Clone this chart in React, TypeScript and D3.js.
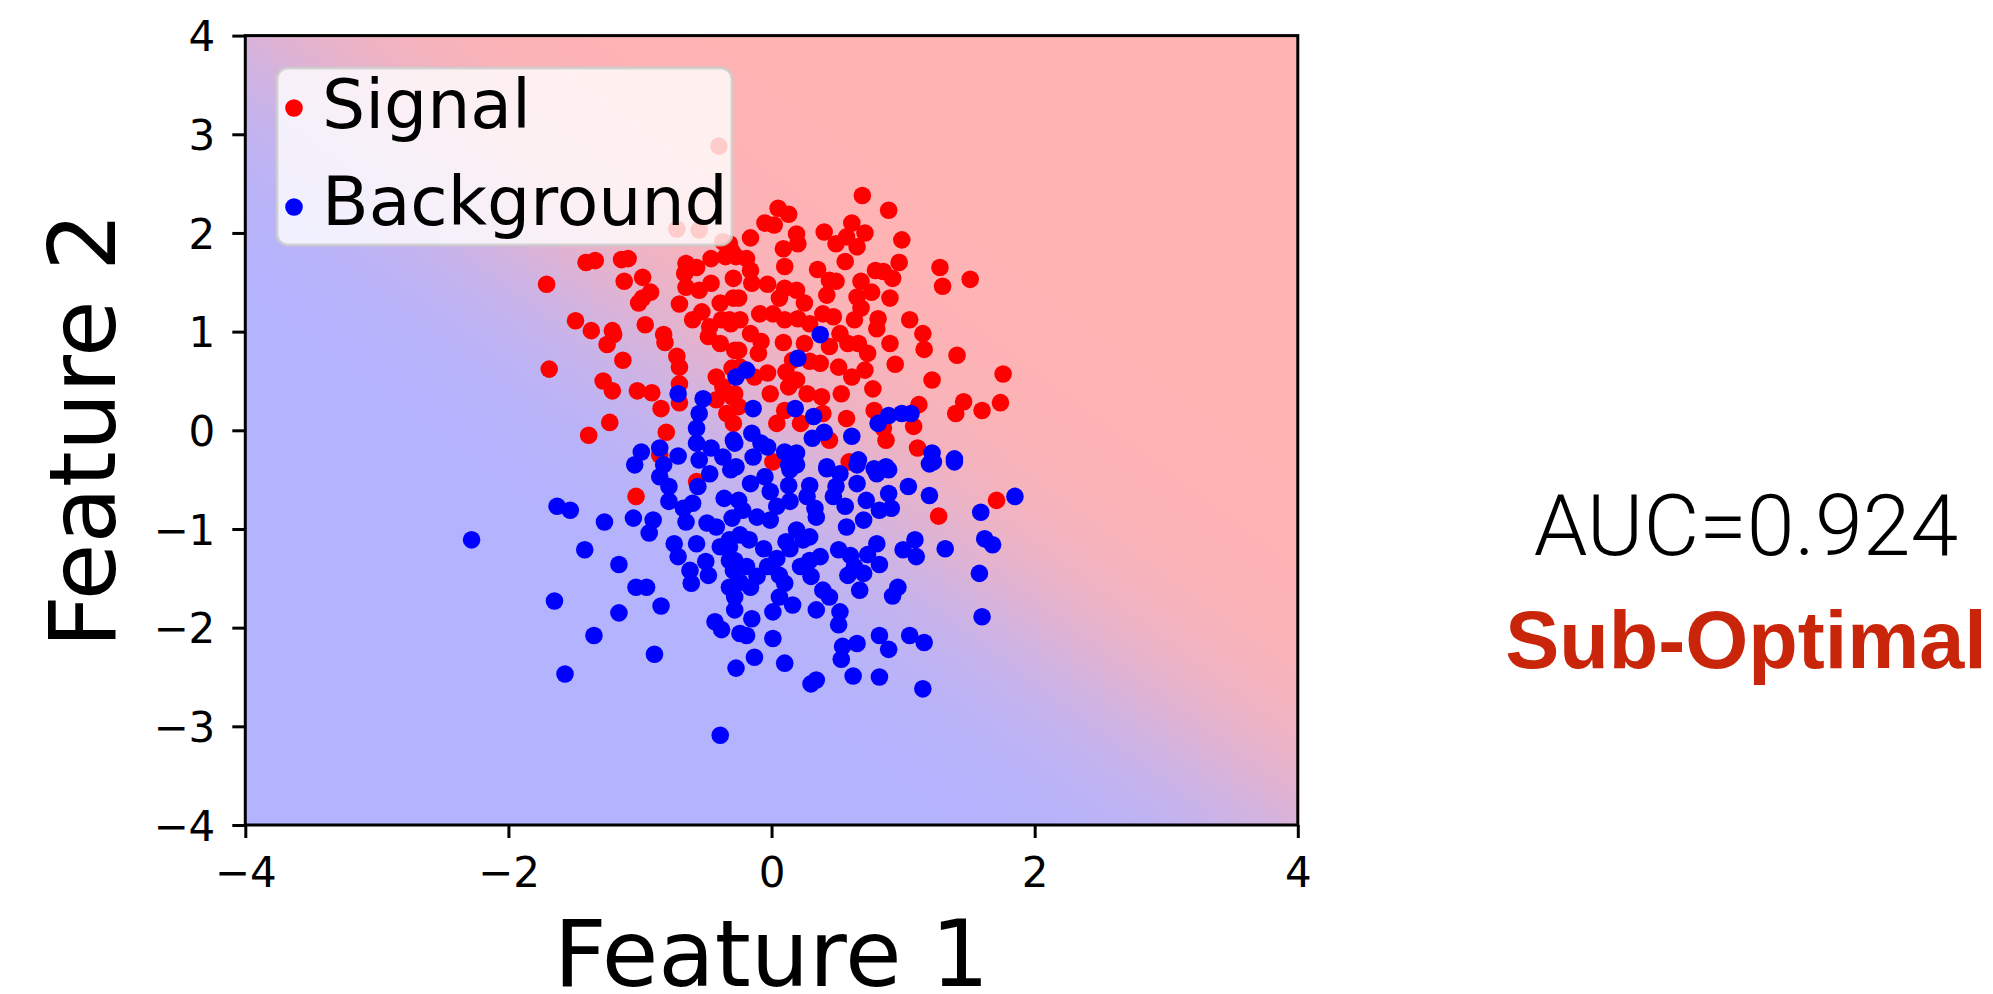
import React, { useEffect, useRef } from 'react';
import * as d3 from 'd3';

// signal (red) points
const signalPoints = [
  [-1.41, 1.70], [-1.34, 1.72], [-1.14, 1.73], [-1.09, 1.74], [-1.71, 1.48], [-1.12, 1.51], [-0.98, 1.55], [-0.92, 1.40],
  [-0.98, 1.34], [-1.01, 1.29], [-1.49, 1.11], [-1.37, 1.01], [-1.21, 1.01], [-1.20, 0.97], [-1.25, 0.87], [-0.96, 1.07],
  [-0.82, 0.97], [-0.81, 0.89], [-1.13, 0.71], [-0.72, 0.75], [-0.70, 0.64], [-1.69, 0.62], [-1.28, 0.50], [-1.21, 0.40],
  [-1.02, 0.40], [-0.91, 0.38], [-0.84, 0.22], [-0.70, 0.47], [-0.70, 0.28], [-1.23, 0.08], [-1.39, -0.05], [-0.80, -0.02],
  [-0.85, -0.25],
  [-0.65, 1.69], [-0.57, 1.65], [-0.46, 1.74], [-0.35, 1.76], [-0.30, 1.81], [-0.66, 1.59], [-0.65, 1.45], [-0.55, 1.42],
  [-0.46, 1.49], [-0.29, 1.54], [-0.70, 1.28], [-0.60, 1.12], [-0.53, 1.20], [-0.39, 1.29], [-0.29, 1.34], [-0.47, 1.05],
  [-0.38, 1.12], [-0.31, 1.08], [-0.48, 0.95], [-0.39, 0.88], [-0.28, 0.81], [-0.30, 0.63], [-0.42, 0.54], [-0.37, 0.44],
  [-0.30, 0.34], [-0.42, 0.31], [-0.34, 0.17], [-0.29, 0.07],
  [-0.40, 2.88], [-0.72, 2.04], [-0.55, 2.03], [-0.37, 1.91],
  [0.69, 2.38], [0.89, 2.23], [0.05, 2.25], [0.13, 2.19], [-0.05, 2.10], [0.02, 2.08], [-0.16, 1.95], [0.19, 1.99],
  [0.20, 1.89], [0.09, 1.84], [0.40, 2.01], [0.49, 1.89], [0.61, 2.10], [0.71, 2.00], [0.57, 1.96], [0.65, 1.86],
  [0.56, 1.71], [0.99, 1.93], [0.97, 1.70], [0.79, 1.62], [0.85, 1.61], [0.68, 1.51], [0.76, 1.40], [0.92, 1.54],
  [1.28, 1.65], [1.51, 1.53], [1.30, 1.46], [0.10, 1.66], [0.35, 1.63], [0.44, 1.52], [0.49, 1.51], [0.42, 1.37],
  [-0.27, 1.76], [-0.19, 1.74], [-0.16, 1.62], [-0.03, 1.48], [-0.15, 1.49], [0.10, 1.44], [0.19, 1.42], [0.25, 1.29],
  [0.06, 1.34], [-0.25, 1.34], [0.65, 1.35], [0.68, 1.24], [0.90, 1.34], [0.63, 1.12], [0.81, 1.13], [0.80, 1.03],
  [0.90, 0.88], [1.05, 1.12], [1.15, 0.98], [1.16, 0.82], [1.41, 0.76], [1.76, 0.57], [1.22, 0.51], [0.94, 0.67],
  [0.77, 0.42], [0.71, 0.61], [0.61, 0.54], [0.53, 0.37], [0.57, 0.12], [0.44, -0.10], [0.87, -0.10], [1.08, 0.04],
  [1.12, 0.26], [1.46, 0.29], [1.40, 0.17], [1.60, 0.20], [1.74, 0.28], [1.11, -0.18], [0.78, 0.20], [0.85, 0.02],
  [-0.32, 1.12], [-0.24, 1.12], [-0.09, 1.18], [0.01, 1.18], [0.10, 1.12], [0.20, 1.13], [0.29, 1.08], [0.39, 1.18],
  [0.47, 1.15], [0.52, 0.98], [0.58, 0.88], [0.73, 0.78], [0.66, 0.88], [0.44, 0.85], [0.25, 0.88], [0.09, 0.89],
  [-0.08, 0.90], [-0.16, 0.98], [-0.25, 0.81], [-0.10, 0.78], [-0.03, 0.58], [-0.13, 0.54], [0.11, 0.59], [0.19, 0.51],
  [0.29, 0.70], [0.37, 0.68], [0.51, 0.64], [0.38, 0.34], [0.27, 0.37], [-0.01, 0.37], [0.10, 0.20], [0.22, 0.07],
  [0.04, 0.07], [0.39, 0.17], [-0.28, 0.37], [-0.25, 0.24], [-0.24, 0.64], [-0.32, 1.89], [0.13, 0.44], [0.16, 0.71],
  [-1.03, -0.67], [-0.57, -0.52], [0.01, -0.32], [1.27, -0.87], [1.71, -0.71], [0.59, -0.32],
];

// background (blue) points
const backgroundPoints = [
  [-0.71, 0.37], [-0.52, 0.32], [-0.55, 0.17], [-0.57, 0.02], [-0.57, -0.13], [-0.46, -0.18], [-0.37, -0.27], [-0.29, -0.10],
  [-0.27, 0.54], [-0.99, -0.22], [-0.85, -0.18], [-0.71, -0.26], [-0.82, -0.35], [-1.04, -0.35], [-0.55, -0.30],
  [0.37, 0.97], [0.20, 0.73], [-0.19, 0.61], [-0.14, 0.22], [0.18, 0.22], [0.32, 0.14], [0.40, -0.02], [0.31, -0.08],
  [0.61, -0.06], [0.81, 0.07], [0.89, 0.15], [0.99, 0.17], [1.06, 0.17], [1.22, -0.23], [1.23, -0.32], [1.39, -0.29],
  [0.66, -0.30], [0.42, -0.37], [-0.15, -0.03], [-0.08, -0.13], [-0.03, -0.17], [-0.14, -0.27], [-0.28, -0.13], [0.10, -0.22],
  [0.19, -0.23], [-0.27, -0.37], [0.13, -0.35], [0.87, -0.37], [0.78, -0.39],
  [-2.28, -1.11], [-1.63, -0.77], [-1.53, -0.81], [-1.27, -0.93], [-1.42, -1.21], [-1.16, -1.36], [-1.05, -0.89], [-0.90, -0.91],
  [-0.93, -1.04], [-1.03, -1.59], [-0.95, -1.59], [-0.84, -1.78], [-1.65, -1.73], [-1.16, -1.85], [-1.35, -2.08], [-0.89, -2.27],
  [-1.57, -2.47], [-0.39, -3.09], [-0.85, -0.47], [-0.78, -0.57], [-0.78, -0.72], [-0.56, -0.57], [-0.47, -0.44], [-0.31, -0.40],
  [-0.36, -0.69], [-0.60, -0.74], [-0.67, -0.79], [-0.65, -0.93], [-0.74, -1.15], [-0.71, -1.28], [-0.57, -1.15], [-0.62, -1.42],
  [-0.61, -1.55], [-0.48, -1.47], [-0.50, -1.33], [-0.39, -1.18], [-0.32, -1.32], [-0.29, -1.42], [-0.30, -0.89], [-0.28, -1.69],
  [-0.28, -1.82], [-0.43, -1.94], [-0.38, -2.02], [-0.27, -2.41], [-0.24, -2.06], [-0.42, -0.98], [-0.49, -0.94], [-0.32, -1.11],
  [-0.16, -0.54], [-0.05, -0.47], [-0.01, -0.62], [0.14, -0.40], [0.19, -0.35], [0.13, -0.56], [0.29, -0.56], [0.42, -0.39],
  [0.52, -0.44], [0.65, -0.35], [0.80, -0.44], [0.89, -0.40], [1.04, -0.57], [1.20, -0.66], [0.89, -0.64], [0.91, -0.79],
  [0.82, -0.81], [0.72, -0.71], [0.65, -0.54], [0.49, -0.57], [0.47, -0.67], [0.56, -0.77], [0.57, -0.98], [0.70, -0.91],
  [0.80, -1.15], [0.73, -1.26], [0.82, -1.36], [1.00, -1.21], [1.09, -1.11], [1.10, -1.28], [1.32, -1.20], [1.59, -0.83],
  [1.62, -1.10], [1.68, -1.16], [1.85, -0.67], [1.58, -1.45], [1.60, -1.89], [0.96, -1.59], [0.92, -1.68], [0.51, -1.21],
  [0.60, -1.27], [0.63, -1.38], [0.58, -1.47], [0.70, -1.45], [0.67, -1.62], [0.39, -1.62], [0.44, -1.69], [0.34, -1.82],
  [0.52, -1.84], [0.51, -1.97], [0.37, -1.28], [0.29, -1.32], [0.30, -1.48], [0.22, -1.38], [0.14, -1.20], [0.04, -1.30],
  [-0.03, -1.38], [-0.06, -1.20], [-0.17, -1.11], [-0.24, -1.06], [-0.32, -1.18], [-0.28, -1.32], [-0.19, -1.38], [-0.11, -1.48],
  [-0.16, -1.59], [-0.24, -1.54], [-0.32, -1.59], [-0.15, -1.91], [-0.19, -2.08], [0.01, -2.11], [0.10, -2.36], [-0.13, -2.30],
  [0.01, -1.84], [0.16, -1.77], [0.06, -1.69], [0.10, -1.55], [0.06, -1.47], [-0.01, -0.91], [-0.11, -0.88], [0.04, -0.77],
  [0.14, -0.72], [0.27, -0.67], [0.33, -0.79], [0.34, -0.88], [0.29, -1.08], [0.19, -1.01], [0.24, -1.11], [0.11, -1.13],
  [-0.22, -0.81], [-0.25, -0.71], [0.82, -2.08], [0.89, -2.22], [1.05, -2.08], [1.16, -2.15], [0.54, -2.19], [0.53, -2.32],
  [0.65, -2.16], [0.62, -2.49], [0.82, -2.50], [0.34, -2.53], [0.30, -2.57], [1.15, -2.62], [1.20, -0.34], [1.39, -0.32],
];

const xTicks = [-4, -2, 0, 2, 4];
const yTicks = [-4, -3, -2, -1, 0, 1, 2, 3, 4];
const legendLabels = ['Signal', 'Background'];
const seriesColors = ['#ff0000', '#0000ff'];
// linear classifier behind the shaded background: p = sigmoid(w1*x + w2*y + b)
const classifierWeights = [1.5, 1.5];
const classifierBias = 0;
const aucLabel = 'AUC=0.924';
const verdictLabel = 'Sub-Optimal';

const W = 1993, H = 994;
const plot = { left: 245.3, right: 1297.8, top: 35.6, bottom: 825 };
const R = 8.8;

export default function App() {
  const ref = useRef<SVGSVGElement>(null);

  useEffect(() => {
    const svg = d3.select(ref.current);
    svg.selectAll('*').remove();

    const x = d3.scaleLinear().domain([-4, 4]).range([plot.left, plot.right]);
    const y = d3.scaleLinear().domain([-4, 4]).range([plot.bottom, plot.top]);

    // background gradient, perpendicular to the decision boundary in pixel space
    const kx = x(1) - x(0), ky = y(1) - y(0);
    const gx = classifierWeights[0] / kx, gy = classifierWeights[1] / ky;
    const g2 = gx * gx + gy * gy;
    const ox = x(0), oy = y(0);
    const at = (t: number) => [ox + gx * (t - classifierBias) / g2, oy + gy * (t - classifierBias) / g2];
    const tMin = -9, tMax = 9;
    const p0 = at(tMin), p1 = at(tMax);
    const color = d3.interpolateRgb('#b3b3ff', '#ffb3b3');
    const defs = svg.append('defs');
    const lg = defs.append('linearGradient')
      .attr('id', 'bgGrad')
      .attr('gradientUnits', 'userSpaceOnUse')
      .attr('x1', p0[0]).attr('y1', p0[1])
      .attr('x2', p1[0]).attr('y2', p1[1]);
    d3.range(0, 91).forEach(i => {
      const t = tMin + (tMax - tMin) * i / 90;
      lg.append('stop').attr('offset', i / 90).attr('stop-color', color(1 / (1 + Math.exp(-t))));
    });

    svg.append('rect')
      .attr('x', plot.left).attr('y', plot.top)
      .attr('width', plot.right - plot.left).attr('height', plot.bottom - plot.top)
      .attr('fill', 'url(#bgGrad)');

    // scatter: signal first, background on top
    [signalPoints, backgroundPoints].forEach((pts, i) => {
      svg.append('g')
        .selectAll('circle')
        .data(pts)
        .enter()
        .append('circle')
        .attr('cx', d => x(d[0]))
        .attr('cy', d => y(d[1]))
        .attr('r', R)
        .attr('fill', seriesColors[i]);
    });

    // frame
    svg.append('rect')
      .attr('x', plot.left).attr('y', plot.top)
      .attr('width', plot.right - plot.left).attr('height', plot.bottom - plot.top)
      .attr('fill', 'none').attr('stroke', '#000').attr('stroke-width', 3);

    const fmt = d3.format('d');
    const gxAxis = svg.append('g')
      .attr('transform', `translate(0,${plot.bottom})`)
      .call(d3.axisBottom(x).tickValues(xTicks).tickSize(13).tickSizeOuter(0).tickPadding(19).tickFormat(fmt as any));
    const gyAxis = svg.append('g')
      .attr('transform', `translate(${plot.left},0)`)
      .call(d3.axisLeft(y).tickValues(yTicks).tickSize(13).tickSizeOuter(0).tickPadding(17).tickFormat(fmt as any));
    [gxAxis, gyAxis].forEach(g => {
      g.select('.domain').remove();
      g.selectAll('.tick line').attr('stroke', '#000').attr('stroke-width', 3);
      g.selectAll('.tick text')
        .attr('font-family', 'DejaVu Sans')
        .attr('font-size', 42)
        .attr('fill', '#000');
    });
    gyAxis.selectAll('.tick text').attr('dy', '0.36em');

    // axis titles
    svg.append('text')
      .attr('x', (plot.left + plot.right) / 2)
      .attr('y', 986)
      .attr('text-anchor', 'middle')
      .attr('font-family', 'DejaVu Sans')
      .attr('font-size', 92)
      .text('Feature 1');
    svg.append('text')
      .attr('transform', `translate(115,${(plot.top + plot.bottom) / 2}) rotate(-90)`)
      .attr('text-anchor', 'middle')
      .attr('font-family', 'DejaVu Sans')
      .attr('font-size', 92)
      .text('Feature 2');

    // legend
    const lgd = svg.append('g').attr('transform', 'translate(277,68)');
    lgd.append('rect')
      .attr('width', 455).attr('height', 177).attr('rx', 11)
      .attr('fill', '#fff').attr('fill-opacity', 0.8)
      .attr('stroke', '#cccccc').attr('stroke-opacity', 0.8).attr('stroke-width', 3);
    legendLabels.forEach((label, i) => {
      lgd.append('circle').attr('cx', 17).attr('cy', 40 + i * 99).attr('r', R).attr('fill', seriesColors[i]);
      lgd.append('text')
        .attr('x', 45).attr('y', 60 + i * 97)
        .attr('font-family', 'DejaVu Sans')
        .attr('font-size', 68)
        .text(label);
    });

    // side annotation
    svg.append('text')
      .attr('x', 1746).attr('y', 555)
      .attr('text-anchor', 'middle')
      .attr('font-family', 'Roboto, Liberation Sans, sans-serif')
      .attr('font-weight', 300)
      .attr('font-size', 86)
      .text(aucLabel);
    svg.append('text')
      .attr('x', 1746).attr('y', 668)
      .attr('text-anchor', 'middle')
      .attr('font-family', 'Liberation Sans, Arial, sans-serif')
      .attr('font-weight', 700)
      .attr('font-size', 81)
      .attr('fill', '#c8250b')
      .text(verdictLabel);
  }, []);

  return (
    <svg ref={ref} width={W} height={H} style={{ position: 'absolute', left: 0, top: 0, background: '#fff' }} />
  );
}
